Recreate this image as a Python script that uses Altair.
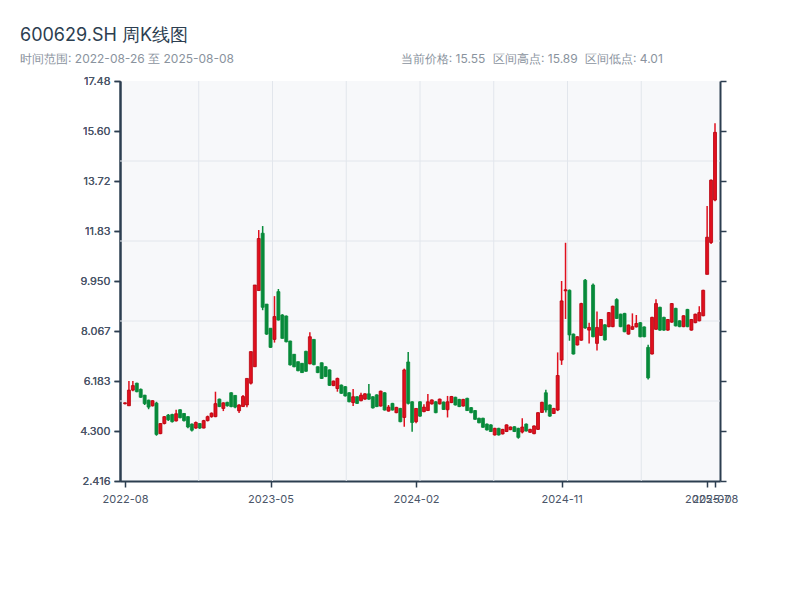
import altair as alt
import pandas as pd

# ---- data (weekly candles, index 0..150; 2022-08-26 .. 2025-08-08) ----
opens = [5.33, 5.25, 5.84, 6.10, 5.87, 5.65, 5.46, 5.25, 5.35, 4.20,
         4.58, 4.90, 4.92, 4.68, 5.10, 4.96, 4.84, 4.56, 4.41, 4.58,
         4.41, 4.69, 4.84, 4.84, 5.50, 5.15, 5.38, 5.74, 5.64, 5.06,
         5.22, 5.28, 6.10, 6.72, 9.59, 11.75, 9.08, 8.17, 7.75, 9.55,
         8.67, 8.63, 7.69, 7.19, 6.91, 6.85, 7.30, 6.83, 7.75, 6.72,
         6.87, 6.72, 6.60, 6.01, 5.90, 6.03, 5.97, 5.74, 5.37, 5.59,
         5.44, 5.50, 5.70, 5.59, 5.66, 5.24, 5.74, 5.05, 5.34, 4.99,
         5.15, 4.81, 6.90, 5.40, 4.65, 5.40, 5.03, 5.07, 5.32, 5.40,
         5.32, 5.39, 5.10, 5.37, 5.57, 5.49, 5.24, 5.53, 5.18, 5.07,
         4.78, 4.78, 4.56, 4.53, 4.15, 4.40, 4.19, 4.28, 4.35, 4.46,
         4.40, 4.26, 4.56, 4.25, 4.20, 4.36, 5.00, 5.74, 5.28, 4.96,
         5.09, 6.97, 9.58, 9.60, 7.95, 7.54, 7.72, 9.98, 8.10, 9.80,
         7.60, 7.90, 8.30, 8.23, 8.23, 9.25, 8.70, 8.73, 7.95, 8.13,
         8.22, 8.38, 8.22, 7.45, 7.20, 8.13, 8.96, 8.58, 8.10, 8.40,
         8.92, 8.45, 8.23, 8.88, 8.10, 8.38, 8.45, 8.64, 10.20, 11.40,
         13.00]
closes = [5.36, 5.84, 6.01, 5.78, 5.57, 5.33, 5.20, 5.44, 4.17, 4.58,
          4.84, 4.72, 4.65, 4.95, 4.80, 4.69, 4.45, 4.33, 4.62, 4.41,
          4.69, 4.84, 4.97, 5.33, 5.22, 5.36, 5.25, 5.22, 5.20, 5.28,
          5.60, 6.28, 7.29, 9.80, 11.55, 8.96, 7.95, 7.45, 8.61, 8.48,
          7.79, 7.66, 6.79, 6.72, 6.57, 6.50, 6.55, 7.85, 6.80, 6.50,
          6.28, 6.35, 6.02, 6.18, 6.28, 5.72, 5.62, 5.40, 5.59, 5.34,
          5.65, 5.70, 5.50, 5.17, 5.22, 5.80, 5.09, 5.20, 5.09, 5.19,
          4.65, 6.60, 5.34, 4.62, 5.15, 4.86, 5.20, 5.40, 5.47, 4.99,
          5.50, 5.11, 5.40, 5.60, 5.28, 5.22, 5.49, 5.07, 4.99, 4.74,
          4.61, 4.44, 4.34, 4.28, 4.40, 4.15, 4.36, 4.53, 4.45, 4.28,
          4.06, 4.45, 4.30, 4.36, 4.49, 4.99, 5.38, 5.09, 4.86, 5.15,
          6.39, 9.20, 9.62, 7.92, 7.20, 7.85, 9.10, 8.18, 8.20, 7.85,
          8.20, 8.50, 7.73, 8.76, 9.00, 8.54, 8.23, 8.04, 8.29, 8.23,
          8.35, 7.85, 7.85, 6.30, 8.58, 9.10, 8.10, 8.10, 8.50, 9.10,
          8.26, 8.23, 8.64, 8.23, 8.50, 8.70, 8.76, 9.60, 11.60, 13.75,
          15.55]
highs = [5.38, 6.18, 6.18, 6.12, 5.90, 5.66, 5.48, 5.46, 5.40, 4.60,
         4.86, 4.94, 4.95, 5.10, 5.12, 4.98, 4.86, 4.58, 4.66, 4.60,
         4.72, 4.88, 5.00, 5.78, 5.52, 5.38, 5.40, 5.76, 5.66, 5.31,
         5.66, 6.28, 7.29, 9.80, 11.87, 12.02, 9.08, 8.17, 9.38, 9.65,
         8.70, 8.65, 7.70, 7.20, 6.92, 6.86, 7.32, 8.02, 7.76, 6.73,
         6.88, 6.74, 6.62, 6.20, 6.31, 6.05, 5.99, 5.76, 5.88, 5.61,
         5.74, 5.72, 6.07, 5.61, 5.68, 5.82, 5.76, 5.28, 5.36, 5.21,
         5.17, 6.65, 7.28, 5.42, 5.17, 5.42, 5.31, 5.69, 5.49, 5.42,
         5.52, 5.41, 5.62, 5.62, 5.59, 5.51, 5.51, 5.55, 5.20, 5.09,
         4.80, 4.80, 4.58, 4.55, 4.42, 4.42, 4.38, 4.55, 4.47, 4.48,
         4.42, 4.78, 4.58, 4.38, 4.51, 5.01, 5.40, 5.85, 5.30, 5.17,
         7.26, 9.95, 11.39, 9.63, 7.97, 7.87, 9.13, 10.03, 8.38, 9.86,
         8.80, 8.52, 8.32, 8.78, 9.02, 9.30, 8.72, 8.75, 8.31, 8.73,
         8.67, 8.40, 8.24, 7.55, 8.60, 9.26, 8.98, 8.60, 8.52, 9.12,
         8.94, 8.47, 8.66, 8.90, 8.52, 8.72, 9.00, 9.62, 12.78, 13.77,
         15.89]
lows = [5.30, 5.25, 5.80, 5.76, 5.55, 5.28, 5.12, 5.22, 4.12, 4.18,
        4.55, 4.68, 4.62, 4.66, 4.78, 4.66, 4.40, 4.28, 4.38, 4.38,
        4.40, 4.66, 4.80, 4.82, 5.20, 5.05, 5.22, 5.19, 5.16, 4.98,
        5.20, 5.19, 6.05, 6.72, 9.59, 8.85, 7.92, 7.43, 7.63, 8.46,
        7.78, 7.64, 6.77, 6.70, 6.55, 6.48, 6.53, 6.81, 6.78, 6.48,
        6.26, 6.33, 6.00, 5.99, 5.78, 5.70, 5.60, 5.38, 5.24, 5.32,
        5.42, 5.48, 5.48, 5.15, 5.20, 5.22, 5.07, 5.03, 5.07, 4.97,
        4.63, 4.46, 5.30, 4.27, 4.59, 4.84, 5.01, 5.05, 5.30, 4.97,
        5.30, 5.09, 4.81, 5.35, 5.26, 5.20, 5.22, 5.05, 4.97, 4.72,
        4.59, 4.42, 4.32, 4.26, 4.13, 4.13, 4.17, 4.26, 4.33, 4.26,
        4.01, 4.21, 4.28, 4.23, 4.18, 4.34, 4.98, 5.00, 4.84, 4.94,
        5.05, 6.79, 8.52, 7.70, 7.18, 7.52, 7.70, 8.15, 7.60, 7.83,
        7.33, 7.88, 7.71, 8.21, 8.21, 8.52, 8.21, 8.02, 7.93, 8.11,
        8.20, 7.83, 7.83, 6.24, 7.18, 8.11, 8.08, 8.08, 8.08, 8.38,
        8.24, 8.21, 8.21, 8.21, 8.08, 8.36, 8.43, 8.62, 10.20, 11.34,
        12.95]

week_index = list(range(len(opens)))

x_tick_index = [0, 37, 74, 111, 148, 150]
x_tick_labels = ["2022-08", "2023-05", "2024-02", "2024-11", "2025-07", "2025-08"]

y_domain = [2.4162, 17.4842]
y_ticks = [2.4162, 4.2997, 6.1832, 8.0667, 9.9502, 11.8337, 13.7172, 15.6007, 17.4842]

grid_x = [18.75, 37.5, 56.25, 75.0, 93.75, 112.5, 131.25]
grid_y = [5.4298, 8.4434, 11.4570, 14.4706]

title_text = "600629.SH 周K线图"
subtitle_left = "时间范围: 2022-08-26 至 2025-08-08"
info_texts = ["当前价格: 15.55", "区间高点: 15.89", "区间低点: 4.01"]
info_offsets = [280.7, 373, 465]   # pixel x of each info item within the chart frame

RED = "#e0101e"
RED_DARK = "#b8000c"
GREEN = "#078a3a"
AXIS = "#2c3e50"
FONT = "Inter"

df = pd.DataFrame({"i": week_index, "open": opens, "close": closes,
                   "high": highs, "low": lows})
df["dir"] = ["up" if c >= o else "down" for o, c in zip(opens, closes)]

label_expr = " : ".join(
    f"datum.value == {v} ? '{l}'" for v, l in zip(x_tick_index, x_tick_labels)
) + " : ''"

x_scale = alt.Scale(domain=[0, 150], nice=False, zero=False)
y_scale = alt.Scale(domain=y_domain, nice=False, zero=False)

x_axis = alt.Axis(values=x_tick_index, labelExpr=label_expr, grid=False,
                  domainColor=AXIS, domainWidth=2, tickColor=AXIS, tickWidth=1.5,
                  tickSize=6, labelColor="#4a5568", labelFont=FONT, labelFontSize=11,
                  labelOverlap=False, labelPadding=6, title=None)
y_axis = alt.Axis(values=y_ticks, format=".4r", grid=False,
                  domainColor=AXIS, domainWidth=2, tickColor=AXIS, tickWidth=1.5,
                  tickSize=6, labelColor="#4a5568", labelFont=FONT, labelFontSize=11,
                  labelOverlap=False, labelPadding=4, title=None)
y_axis_right = alt.Axis(orient="right", values=y_ticks, labels=False, grid=False,
                        domainColor=AXIS, domainWidth=2, tickColor=AXIS, tickWidth=1.5,
                        tickSize=6, title=None)

color_scale = alt.Scale(domain=["up", "down"], range=[RED, GREEN])
stroke_scale = alt.Scale(domain=["up", "down"], range=[RED_DARK, GREEN])

grid_v = alt.Chart(pd.DataFrame({"gx": grid_x})).mark_rule(
    color="#e2e6ec", strokeWidth=1).encode(
    x=alt.X("gx:Q", scale=x_scale, axis=x_axis))

grid_h = alt.Chart(pd.DataFrame({"gy": grid_y})).mark_rule(
    color="#e2e6ec", strokeWidth=1).encode(
    y=alt.Y("gy:Q", scale=y_scale, axis=y_axis_right))

base = alt.Chart(df)
wicks = base.mark_rule(strokeWidth=1.5).encode(
    x=alt.X("i:Q", scale=x_scale, axis=x_axis),
    y=alt.Y("low:Q", scale=y_scale, axis=y_axis),
    y2="high:Q",
    color=alt.Color("dir:N", scale=color_scale, legend=None),
)
bodies = base.mark_bar(size=3, strokeWidth=0.8).encode(
    x=alt.X("i:Q", scale=x_scale, axis=x_axis),
    y=alt.Y("open:Q", scale=y_scale, axis=y_axis),
    y2="close:Q",
    fill=alt.Fill("dir:N", scale=color_scale, legend=None),
    stroke=alt.Stroke("dir:N", scale=stroke_scale, legend=None),
)

titles = pd.DataFrame({"t": [title_text], "sl": [subtitle_left]})
t_main = alt.Chart(titles).mark_text(align="left", baseline="alphabetic", fontSize=18,
                                     font=FONT, color="#2c3e50").encode(
    x=alt.value(-100), y=alt.value(-40), text="t:N")
t_left = alt.Chart(titles).mark_text(align="left", baseline="alphabetic", fontSize=12,
                                     font=FONT, color="#8a939e").encode(
    x=alt.value(-100), y=alt.value(-18), text="sl:N")
info_layers = [
    alt.Chart(pd.DataFrame({"s": [txt]})).mark_text(
        align="left", baseline="alphabetic", fontSize=12, font=FONT, color="#8a939e"
    ).encode(x=alt.value(off), y=alt.value(-18), text="s:N")
    for txt, off in zip(info_texts, info_offsets)
]

chart = alt.layer(grid_v, grid_h, wicks, bodies, t_main, t_left, *info_layers).resolve_axis(
    y="independent"
).properties(
    width=600, height=400,
    autosize=alt.AutoSizeParams(type="none"),
    padding={"left": 112, "top": 73, "right": 72, "bottom": 111},
).configure_view(fill="#f7f8fa", stroke=None)

chart.save("out.html", embed_options={"renderer": "svg", "actions": False})
